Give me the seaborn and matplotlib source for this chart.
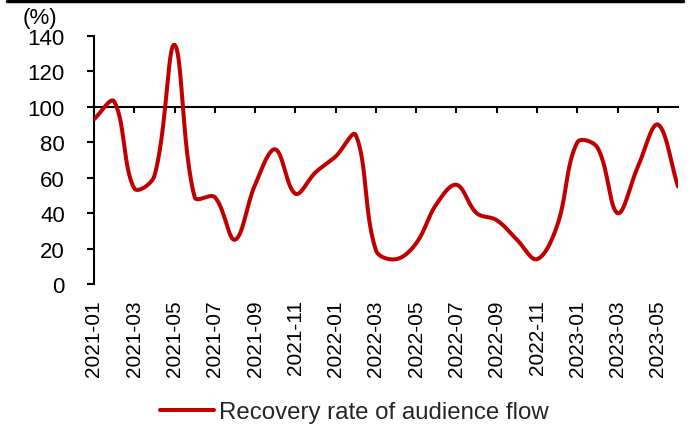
import numpy as np
import pandas as pd
import matplotlib
matplotlib.use("Agg")
import matplotlib.pyplot as plt
from matplotlib.lines import Line2D
import seaborn as sns

# Monthly recovery rate of audience flow, 2021-01 .. 2023-06 (%)
months = pd.period_range("2021-01", "2023-06", freq="M").strftime("%Y-%m").tolist()
recovery = [93, 103, 54, 61, 135, 49, 49, 25, 56, 76,
            51, 63, 72, 84, 19, 14, 23, 45, 56, 40,
            36, 25, 14, 33, 80, 77, 40, 66, 90, 55]
y_ticks = [0, 20, 40, 60, 80, 100, 120, 140]
series_name = "Recovery rate of audience flow"
red = "#C00000"

sns.set_theme(style="white")
plt.rcParams["font.family"] = ["Liberation Sans", "DejaVu Sans"]
plt.rcParams["font.size"] = 15


def smooth_curve(xs, ys, sx=20.14, sy=1.771, s=0.36, n=30):
    """Bezier smoothing with tangents weighted by neighbouring segment lengths."""
    p = np.column_stack([np.asarray(xs, float) * sx, np.asarray(ys, float) * sy])
    m = len(p)
    c_out = np.zeros_like(p)
    c_in = np.zeros_like(p)
    for i in range(m):
        prev_p = p[i - 1] if i > 0 else p[i]
        next_p = p[i + 1] if i < m - 1 else p[i]
        d = next_p - prev_p
        l1 = np.linalg.norm(p[i] - prev_p)
        l2 = np.linalg.norm(next_p - p[i])
        tot = l1 + l2 if (l1 + l2) > 0 else 1.0
        c_out[i] = p[i] + d * s * l2 / tot
        c_in[i] = p[i] - d * s * l1 / tot
    t = np.linspace(0, 1, n)[:, None]
    out = []
    for i in range(m - 1):
        p1, c1, c2, p2 = p[i], c_out[i], c_in[i + 1], p[i + 1]
        seg = ((1 - t) ** 3) * p1 + 3 * ((1 - t) ** 2) * t * c1 + 3 * (1 - t) * t ** 2 * c2 + t ** 3 * p2
        out.append(seg if i == 0 else seg[1:])
    out = np.vstack(out)
    return out[:, 0] / sx, out[:, 1] / sy


idx = np.arange(len(months))
cx, cy = smooth_curve(idx, recovery)
curve = pd.DataFrame({"x": cx, "y": cy, "series": series_name})

fig = plt.figure(figsize=(6.94, 4.27), dpi=100)
ax = fig.add_axes([0.1354, 0.3326, 0.977 - 0.1354, 0.9133 - 0.3326])

sns.lineplot(data=curve, x="x", y="y", sort=False, estimator=None,
             color=red, linewidth=2.9, ax=ax, legend=False)

ax.set_xlim(0, len(months) - 1)
ax.set_ylim(0, 140)
ax.set_yticks(y_ticks)
ax.set_xlabel("")
ax.set_ylabel("")

# horizontal axis crosses at 100
for side in ("top", "right"):
    ax.spines[side].set_visible(False)
ax.spines["bottom"].set_position(("data", 100))
for side in ("left", "bottom"):
    ax.spines[side].set_color("black")
    ax.spines[side].set_linewidth(1.5)
    ax.spines[side].set_zorder(1)

tick_pos = idx[::2]
ax.set_xticks(tick_pos)
ax.tick_params(axis="x", direction="out", length=4, width=1.5, color="black",
               labelbottom=False, bottom=True)
ax.tick_params(axis="y", direction="out", length=5, width=1.5, color="black",
               left=True, labelsize=16, pad=16, labelcolor="black")

# category labels sit below the plot area
sec = ax.secondary_xaxis(0)
sec.set_xticks(tick_pos)
sec.set_xticklabels([months[i] for i in tick_pos], rotation=90, fontsize=15)
sec.tick_params(axis="x", length=0, pad=11, labelcolor="black")
sec.spines["bottom"].set_visible(False)

fig.text(0.058, 0.982, "(%)", ha="center", va="top", fontsize=16, color="black")

# rule across the top
fig.add_artist(Line2D([0.01, 0.984], [0.995, 0.995], color="black", linewidth=2.5,
                      transform=fig.transFigure))

handle = Line2D([], [], color=red, linewidth=2.9)
fig.legend([handle], [series_name], loc="center", bbox_to_anchor=(0.511, 0.032),
           frameon=False, handlelength=2.25, handletextpad=0.2, fontsize=17.3,
           borderaxespad=0)

fig.savefig("out.png", dpi=100)
